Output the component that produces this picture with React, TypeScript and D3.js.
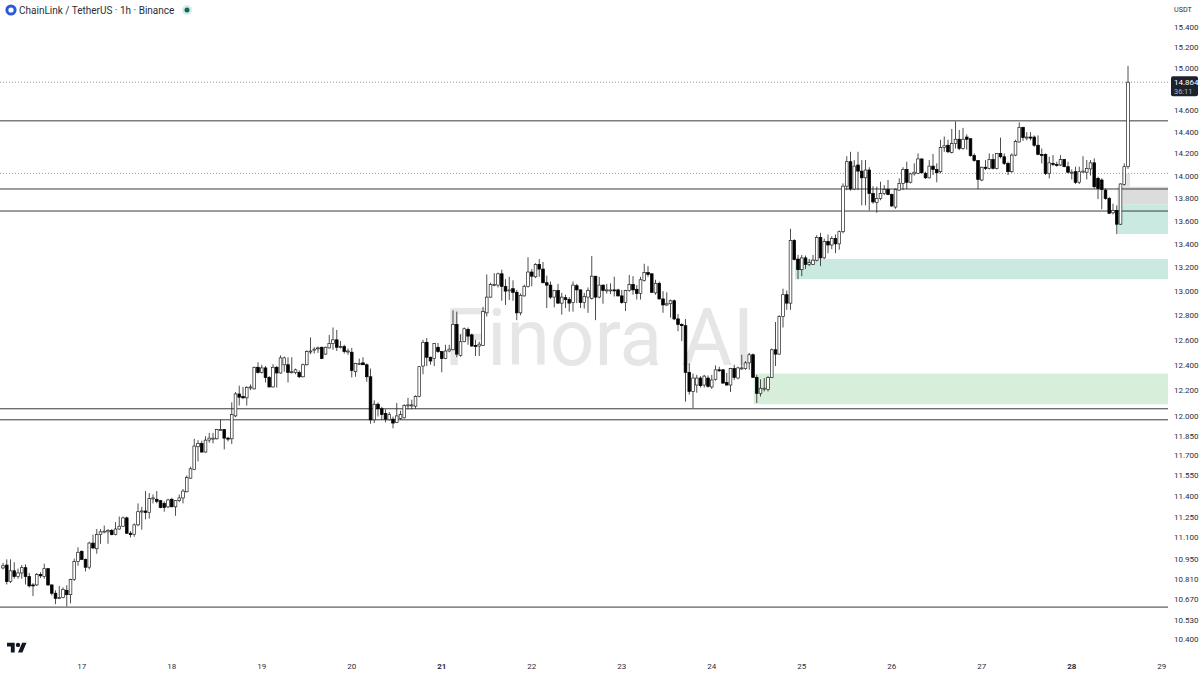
import * as d3 from "d3";
import * as React from "react";

type Candle = [number, number, number, number]; // open, high, low, close

const width = 1200;
const height = 675;
const plotRight = 1168;

// hourly candles, grouped by the day they belong to
const day16: Candle[] = [
  [10.885,10.92,10.875,10.9],[10.905,10.945,10.77,10.79],[10.79,10.945,10.78,10.865],[10.865,10.925,10.81,10.825],
  [10.825,10.88,10.81,10.85],[10.85,10.905,10.81,10.887],[10.887,10.91,10.77,10.825],[10.825,10.85,10.75,10.76],
  [10.767,10.78,10.69,10.76],[10.767,10.85,10.76,10.84],[10.84,10.855,10.815,10.83],[10.825,10.915,10.81,10.88],
  [10.88,10.885,10.76,10.767],[10.767,10.77,10.695,10.71],[10.71,10.73,10.635,10.675],[10.68,10.76,10.67,10.68],
  [10.68,10.75,10.675,10.735],[10.73,10.765,10.62,10.7],[10.7,10.81,10.64,10.805],[10.805,10.95,10.795,10.93],
  [10.93,11.03,10.9,10.995],
];
const day17: Candle[] = [
  [11,11.01,10.94,10.945],[10.945,10.95,10.86,10.89],[10.89,11.07,10.875,11.06],[11.06,11.12,11.02,11.025],
  [11.02,11.16,10.985,11.12],[11.12,11.16,11.055,11.14],[11.14,11.185,11.13,11.145],[11.14,11.16,11.055,11.15],
  [11.15,11.16,11.115,11.12],[11.12,11.21,11.115,11.16],[11.16,11.25,11.155,11.18],[11.18,11.25,11.175,11.24],
  [11.24,11.25,11.125,11.13],[11.13,11.145,11.1,11.12],[11.12,11.2,11.105,11.19],[11.19,11.345,11.18,11.285],
  [11.285,11.32,11.155,11.29],[11.29,11.435,11.23,11.28],[11.28,11.42,11.235,11.38],[11.38,11.41,11.345,11.385],
  [11.375,11.435,11.345,11.36],[11.365,11.37,11.31,11.315],[11.345,11.36,11.285,11.315],[11.32,11.38,11.31,11.37],
];
const day18: Candle[] = [
  [11.375,11.385,11.32,11.32],[11.32,11.37,11.255,11.365],[11.365,11.41,11.355,11.385],[11.385,11.45,11.345,11.435],
  [11.43,11.55,11.425,11.535],[11.53,11.615,11.525,11.6],[11.595,11.825,11.59,11.77],[11.765,11.815,11.655,11.79],
  [11.79,11.81,11.72,11.725],[11.725,11.845,11.72,11.815],[11.815,11.87,11.795,11.83],[11.825,11.87,11.79,11.83],
  [11.825,11.9,11.82,11.895],[11.895,11.97,11.89,11.895],[11.895,11.9,11.745,11.83],[11.83,11.84,11.805,11.825],
  [11.825,12.105,11.785,12.01],[12,12.185,11.99,12.17],[12.17,12.235,12.08,12.145],[12.15,12.225,12.13,12.14],
  [12.14,12.23,12.08,12.22],[12.22,12.245,12.2,12.225],[12.21,12.385,12.205,12.38],[12.38,12.42,12.33,12.34],
];
const day19: Candle[] = [
  [12.34,12.4,12.33,12.375],[12.375,12.39,12.26,12.3],[12.3,12.31,12.22,12.225],[12.225,12.405,12.22,12.38],
  [12.38,12.39,12.22,12.335],[12.335,12.475,12.33,12.455],[12.4,12.465,12.345,12.455],[12.4,12.46,12.26,12.34],
  [12.345,12.46,12.33,12.345],[12.34,12.37,12.325,12.36],[12.34,12.355,12.295,12.305],[12.305,12.41,12.3,12.4],
  [12.4,12.515,12.395,12.505],[12.505,12.62,12.485,12.51],[12.52,12.54,12.49,12.525],[12.53,12.545,12.495,12.535],
  [12.54,12.545,12.445,12.45],[12.485,12.545,12.48,12.54],[12.535,12.64,12.53,12.57],[12.57,12.7,12.52,12.6],
  [12.6,12.68,12.51,12.54],[12.545,12.59,12.53,12.545],[12.545,12.56,12.49,12.505],[12.51,12.53,12.48,12.51],
];
const day20: Candle[] = [
  [12.5,12.535,12.3,12.355],[12.345,12.415,12.305,12.41],[12.41,12.45,12.4,12.41],[12.415,12.46,12.4,12.4],
  [12.4,12.41,12.265,12.305],[12.305,12.37,11.94,11.97],[11.97,12.12,11.945,12.09],[12.09,12.105,11.995,12.055],
  [12.055,12.07,11.97,12.01],[12.02,12.05,11.95,11.975],[11.97,12.03,11.965,12.01],[11.975,11.995,11.905,11.945],
  [11.95,12.1,11.945,12],[11.98,12.04,11.97,12.01],[11.985,12.09,11.98,12.08],[12.08,12.14,12.05,12.085],
  [12.085,12.125,12.05,12.085],[12.075,12.16,12.055,12.15],[12.15,12.39,12.145,12.385],[12.39,12.6,12.325,12.58],
  [12.58,12.615,12.39,12.46],[12.46,12.465,12.4,12.43],[12.45,12.575,12.39,12.57],[12.54,12.575,12.495,12.505],
];
const day21: Candle[] = [
  [12.505,12.51,12.34,12.45],[12.45,12.56,12.445,12.51],[12.51,12.56,12.5,12.525],[12.52,12.84,12.515,12.725],
  [12.725,12.83,12.46,12.485],[12.475,12.645,12.465,12.585],[12.585,12.7,12.58,12.69],[12.685,12.7,12.56,12.63],
  [12.64,12.65,12.545,12.55],[12.555,12.6,12.47,12.545],[12.55,12.585,12.47,12.565],[12.555,12.87,12.55,12.83],
  [12.82,13.14,12.79,12.95],[12.95,13.07,12.945,13.055],[13.055,13.15,13.04,13.055],[13.05,13.155,13.03,13.145],
  [13.145,13.18,12.92,13.04],[13.04,13.1,12.885,13],[13.005,13.12,12.925,13.01],[13.02,13.09,12.92,12.99],
  [12.99,13.01,12.76,12.82],[12.82,12.98,12.8,12.965],[12.96,13.055,12.955,13.04],[13.04,13.285,13.03,13.16],
];
const day22: Candle[] = [
  [13.16,13.185,13.04,13.125],[13.12,13.235,13.11,13.225],[13.225,13.27,13.12,13.185],[13.185,13.245,13.065,13.07],
  [13.07,13.13,12.86,13.05],[13.05,13.08,12.935,12.95],[12.95,13.01,12.865,13.005],[13.005,13.06,12.895,12.9],
  [12.9,12.985,12.805,12.95],[12.945,12.97,12.86,12.93],[12.93,12.95,12.83,12.9],[12.905,13.08,12.83,13.05],
  [13.045,13.06,12.9,13.01],[13.01,13.015,12.86,12.905],[12.905,12.985,12.855,12.955],[12.95,13.03,12.82,13.005],
  [12.94,13.295,12.93,13.125],[13.125,13.125,12.76,12.95],[12.95,13.12,12.94,13.05],[13.05,13.055,12.895,13.005],
  [13.005,13.06,12.98,13.01],[13.01,13.065,12.975,13.01],[13.01,13.12,12.955,13.005],[13.01,13.02,12.955,12.96],
];
const day23: Candle[] = [
  [12.96,13.01,12.895,12.905],[12.905,13.01,12.835,13.005],[13.005,13.135,12.995,13.055],[13.055,13.125,12.97,13.01],
  [13.015,13.05,12.93,12.98],[12.98,13.12,12.93,13.095],[13.09,13.23,13.08,13.155],[13.155,13.21,13.12,13.14],
  [13.145,13.15,12.985,12.99],[12.985,13.095,12.97,13.065],[13.065,13.08,12.93,12.935],[12.935,13,12.82,12.885],
  [12.885,12.99,12.875,12.895],[12.895,12.93,12.78,12.92],[12.92,12.93,12.76,12.77],[12.77,12.81,12.67,12.725],
  [12.725,12.735,12.59,12.715],[12.715,12.77,12.11,12.34],[12.34,12.41,12.165,12.19],[12.19,12.33,12.06,12.295],
  [12.24,12.32,12.18,12.295],[12.295,12.31,12.22,12.235],[12.24,12.32,12.22,12.31],[12.295,12.315,12.22,12.23],
];
const day24: Candle[] = [
  [12.225,12.32,12.21,12.28],[12.285,12.395,12.275,12.36],[12.36,12.385,12.345,12.355],[12.36,12.365,12.25,12.255],
  [12.26,12.335,12.235,12.24],[12.24,12.375,12.185,12.37],[12.37,12.4,12.28,12.3],[12.295,12.385,12.285,12.375],
  [12.375,12.48,12.36,12.375],[12.37,12.43,12.36,12.415],[12.415,12.495,12.36,12.48],[12.48,12.49,12.3,12.3],
  [12.3,12.32,12.1,12.175],[12.175,12.285,12.15,12.215],[12.21,12.295,12.19,12.215],[12.205,12.31,12.19,12.3],
  [12.3,12.53,12.295,12.52],[12.52,12.745,12.39,12.485],[12.485,12.8,12.48,12.79],[12.79,13.02,12.7,12.97],
  [12.97,13.005,12.845,12.9],[12.9,13.53,12.845,13.43],[13.43,13.44,13.26,13.265],[13.27,13.305,13.1,13.18],
];
const day25: Candle[] = [
  [13.18,13.305,13.125,13.28],[13.28,13.3,13.185,13.225],[13.225,13.27,13.21,13.24],[13.225,13.305,13.22,13.26],
  [13.26,13.475,13.25,13.455],[13.455,13.495,13.21,13.28],[13.28,13.445,13.27,13.42],[13.42,13.48,13.32,13.39],
  [13.39,13.465,13.355,13.445],[13.445,13.48,13.32,13.4],[13.4,13.515,13.35,13.505],[13.505,13.93,13.49,13.905],
  [13.905,14.175,13.87,14.125],[14.125,14.215,13.865,13.88],[13.88,14.14,13.87,14.085],[14.095,14.215,13.87,14.04],
  [14.04,14.14,13.735,13.98],[13.98,14.14,13.735,14.05],[14.05,14.075,13.69,13.84],[13.84,13.905,13.75,13.765],
  [13.76,13.9,13.67,13.795],[13.795,13.945,13.78,13.84],[13.84,13.915,13.825,13.875],[13.875,13.96,13.825,13.83],
];
const day26: Candle[] = [
  [13.83,13.84,13.72,13.73],[13.72,13.885,13.705,13.875],[13.87,13.975,13.865,13.93],[13.93,14.075,13.87,14.055],
  [14.055,14.125,13.88,13.94],[13.94,14.025,13.93,14.015],[14.015,14.11,14,14.03],[14.02,14.2,14.015,14.15],
  [14.15,14.155,14.02,14.025],[14.02,14.035,13.97,13.98],[13.98,14.14,13.975,14.085],[14.085,14.195,14.005,14.055],
  [14.055,14.11,13.94,14.025],[14.035,14.325,14.02,14.255],[14.255,14.355,14.215,14.27],[14.275,14.325,14.205,14.215],
  [14.21,14.425,14.2,14.29],[14.29,14.495,14.245,14.33],[14.33,14.415,14.23,14.245],[14.245,14.435,14.235,14.33],
  [14.35,14.375,14.235,14.33],[14.335,14.34,14.17,14.18],[14.18,14.2,14.125,14.135],[14.135,14.14,13.88,13.965],
];
const day27: Candle[] = [
  [13.96,14.08,13.95,14.075],[14.075,14.14,14.05,14.065],[14.065,14.2,14.055,14.145],[14.145,14.195,14.055,14.065],
  [14.065,14.205,14.055,14.2],[14.2,14.345,14.155,14.17],[14.17,14.2,14.095,14.11],[14.11,14.125,14.005,14.035],
  [14.035,14.2,14.025,14.185],[14.185,14.325,14.175,14.31],[14.305,14.485,14.3,14.44],[14.44,14.445,14.315,14.345],
  [14.345,14.395,14.32,14.35],[14.35,14.395,14.32,14.345],[14.35,14.365,14.26,14.275],[14.275,14.365,14.185,14.19],
  [14.19,14.245,14.11,14.185],[14.19,14.2,14.005,14.02],[14.02,14.17,13.975,14.115],[14.11,14.185,14.085,14.1],
  [14.1,14.125,14.08,14.095],[14.095,14.185,14.085,14.145],[14.145,14.15,14.075,14.08],[14.08,14.125,14.02,14.03],
];
const day28: Candle[] = [
  [14.03,14.055,13.965,14.03],[14.035,14.08,13.925,13.94],[13.94,14.08,13.925,14.035],[14.035,14.175,14.025,14.04],
  [14.03,14.14,13.965,14.065],[14.06,14.14,14,14.115],[14.115,14.155,13.885,13.9],[13.975,13.99,13.79,13.885],
  [13.96,13.975,13.7,13.875],[13.87,13.885,13.785,13.795],[13.795,13.81,13.66,13.665],[13.67,13.75,13.655,13.69],
  [13.69,13.735,13.485,13.57],[13.57,13.93,13.565,13.925],[13.92,14.11,13.91,14.08],[14.08,15.02,14.06,14.864],
];

const candles = [day16, day17, day18, day19, day20, day21, day22, day23, day24, day25, day26, day27, day28].flat();

const priceTicks = [
  15.4, 15.2, 15, 14.6, 14.4, 14.2, 14, 13.8, 13.6, 13.4, 13.2, 13, 12.8, 12.6, 12.4, 12.2, 12,
  11.85, 11.7, 11.55, 11.4, 11.25, 11.1, 10.95, 10.81, 10.67, 10.53, 10.4,
];
const dayLabels = [17, 18, 19, 20, 21, 22, 23, 24, 25, 26, 27, 28, 29];
const boldDays = [21, 28];
const levels = [14.5, 13.88, 13.685, 12.055, 11.97, 10.615];
const dottedLevels = [14.864, 14.02];
const lastPrice = 14.864;

// zones: first candle, top price, bottom price, colour
const zones: [number, number, number, string][] = [
  [298, 13.9, 13.745, "#dcdcdc"],
  [298, 13.745, 13.485, "#c9e9e1"],
  [212, 13.27, 13.1, "#c9e9e1"],
  [201, 12.33, 12.09, "#d7eeda"],
];

const font = "Roboto, 'Open Sans', sans-serif";

export default function App() {
  const x = d3.scaleLinear().domain([0, 309]).range([3, 1161.75]);
  const y = d3.scaleLog().domain([10.4, 15]).range([639, 68]);
  const fmt = d3.format(".3f");
  const bw = 2.7;

  return (
    <svg
      width={width}
      height={height}
      style={{ position: "absolute", left: 0, top: 0, background: "#fff", fontFamily: font }}
    >
      <text x={444} y={365} fontSize={80} fontFamily="Roboto, sans-serif" fontWeight={400} fill="#e6e6e6" textLength={310} lengthAdjust="spacingAndGlyphs">
        Finora AI
      </text>

      {zones.map(([start, top, bottom, color], i) => (
        <rect key={i} x={x(start) - 3} y={y(top)} width={plotRight - x(start) + 3} height={y(bottom) - y(top)} fill={color} />
      ))}
      <rect x={x(299) - 2} y={y(14.02)} width={x(300) - x(299) + 4} height={y(13.9) - y(14.02)} fill="#e4e4e4" />

      {dottedLevels.map((p) => (
        <line key={p} x1={0} x2={plotRight} y1={y(p)} y2={y(p)} stroke="#777" strokeWidth={0.8} strokeDasharray="1 2" />
      ))}
      {levels.map((p) => (
        <line key={p} x1={0} x2={plotRight} y1={y(p)} y2={y(p)} stroke="#3a3a3a" strokeWidth={1} />
      ))}

      <g>
        {candles.map(([o, h, l, c], i) => {
          const up = c >= o;
          const top = y(Math.max(o, c));
          const bottom = y(Math.min(o, c));
          return (
            <g key={i}>
              <line x1={x(i)} x2={x(i)} y1={y(h)} y2={y(l)} stroke="#222" strokeWidth={0.8} />
              <rect
                x={x(i) - bw / 2}
                y={top}
                width={bw}
                height={Math.max(bottom - top, 1)}
                fill={up ? "#fff" : "#000"}
                stroke={up ? "#222" : "#000"}
                strokeWidth={0.7}
              />
            </g>
          );
        })}
      </g>

      {/* header */}
      <circle cx={11} cy={10} r={5.6} fill="#2a5ada" />
      <circle cx={11} cy={10} r={2.6} fill="#fff" />
      <text x={19} y={14} fontSize={10} fill="#2a2e39">ChainLink / TetherUS · 1h · Binance</text>
      <circle cx={187} cy={10} r={5} fill="#d5ebe6" />
      <circle cx={187} cy={10} r={2.5} fill="#0b6b5c" />

      {/* price axis */}
      <text x={1174} y={12} fontSize={7.2} fill="#2a2e39">USDT</text>
      {priceTicks.map((p) => (
        <text key={p} x={1174} y={y(p) + 3} fontSize={8} fill="#2a2e39">{fmt(p)}</text>
      ))}
      <rect x={1171} y={y(lastPrice) - 6} width={27} height={20} rx={2} fill="#1e222d" />
      <text x={1174} y={y(lastPrice) + 3} fontSize={8} fill="#fff">{fmt(lastPrice)}</text>
      <text x={1174} y={y(lastPrice) + 11.5} fontSize={7.4} fill="#b2b5be">36:11</text>

      {/* time axis */}
      {dayLabels.map((d, i) => (
        <text
          key={d}
          x={x(21 + 24 * i)}
          y={669}
          fontSize={8}
          textAnchor="middle"
          fill="#2a2e39"
          fontWeight={boldDays.includes(d) ? 700 : 400}
        >
          {d}
        </text>
      ))}

      {/* TradingView mark */}
      <g transform="translate(7,640.5) scale(0.55)" fill="#131722">
        <path d="M14 22H7V11H0V4h14v18zM28 22h-8l7.5-18h8L28 22z" />
        <circle cx={20} cy={8} r={4} />
      </g>
    </svg>
  );
}
